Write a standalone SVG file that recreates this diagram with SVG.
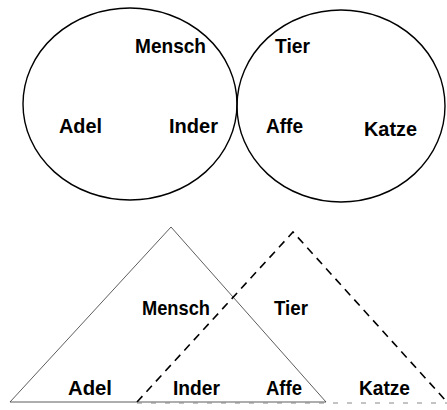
<svg xmlns="http://www.w3.org/2000/svg" width="447" height="410" viewBox="0 0 447 410">
<style>
.set{fill:none;stroke:#000;stroke-width:1.4}
.tri{fill:none;stroke:#333;stroke-width:0.8}
.dash{fill:none;stroke:#000;stroke-width:1.6;stroke-dasharray:8 6}
.base{fill:none;stroke:#888;stroke-width:1;stroke-dasharray:5 9}
text{font-family:"Liberation Sans",Arial,sans-serif;font-weight:bold;font-size:20.5px;fill:#000}
</style>
<rect width="447" height="410" fill="#fff"/>
<g id="connectors">
<ellipse id="circle-mensch" class="set" cx="130" cy="104" rx="107" ry="96"/>
<ellipse id="circle-tier" class="set" cx="341" cy="106" rx="104" ry="96"/>
<polygon id="tri-mensch" class="tri" points="171,227 10,402 326,402"/>
<polyline id="tri-tier" class="dash" points="137,402 293,232 447,402"/>
<line class="base" x1="137" y1="403" x2="447" y2="403"/>
</g>
<g id="n-mensch1"><text x="135" y="53" textLength="71" lengthAdjust="spacingAndGlyphs">Mensch</text></g>
<g id="n-tier1"><text x="275" y="53" textLength="35" lengthAdjust="spacingAndGlyphs">Tier</text></g>
<g id="n-adel1"><text x="59" y="133" textLength="43" lengthAdjust="spacingAndGlyphs">Adel</text></g>
<g id="n-inder1"><text x="169" y="133" textLength="49" lengthAdjust="spacingAndGlyphs">Inder</text></g>
<g id="n-affe1"><text x="266" y="133" textLength="37" lengthAdjust="spacingAndGlyphs">Affe</text></g>
<g id="n-katze1"><text x="364" y="136" textLength="53" lengthAdjust="spacingAndGlyphs">Katze</text></g>
<g id="n-mensch2"><text x="142" y="315" textLength="68" lengthAdjust="spacingAndGlyphs">Mensch</text></g>
<g id="n-tier2"><text x="274" y="315" textLength="34" lengthAdjust="spacingAndGlyphs">Tier</text></g>
<g id="n-adel2"><text x="68" y="395" textLength="44" lengthAdjust="spacingAndGlyphs">Adel</text></g>
<g id="n-inder2"><text x="173" y="395" textLength="47" lengthAdjust="spacingAndGlyphs">Inder</text></g>
<g id="n-affe2"><text x="266" y="395" textLength="36" lengthAdjust="spacingAndGlyphs">Affe</text></g>
<g id="n-katze2"><text x="359" y="395" textLength="51" lengthAdjust="spacingAndGlyphs">Katze</text></g>
</svg>
